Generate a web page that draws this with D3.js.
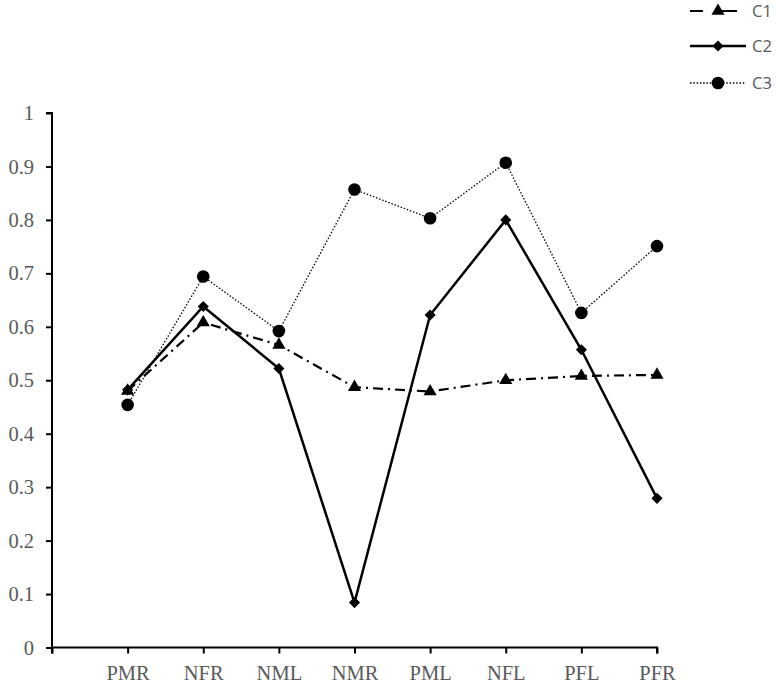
<!DOCTYPE html>
<html>
<head>
<meta charset="utf-8">
<script src="https://cdn.jsdelivr.net/npm/d3@7"></script>
<style>
  body { margin: 0; background: #fff; }
  svg { display: block; }
</style>
</head>
<body>
<svg id="chart" width="776" height="687"></svg>
<script>
const categories = ["PMR", "NFR", "NML", "NMR", "PML", "NFL", "PFL", "PFR"];
const c1Values = [0.48, 0.608, 0.566, 0.487, 0.479, 0.50, 0.508, 0.510];
const c2Values = [0.482, 0.638, 0.522, 0.084, 0.622, 0.80, 0.557, 0.279];
const c3Values = [0.454, 0.694, 0.592, 0.857, 0.803, 0.907, 0.626, 0.751];
const yTicks = [0, 0.1, 0.2, 0.3, 0.4, 0.5, 0.6, 0.7, 0.8, 0.9, 1];

const series = [
  { name: "C1", values: c1Values, marker: "triangle", dash: "10,5,2,5", width: 2.2 },
  { name: "C2", values: c2Values, marker: "diamond", dash: null, width: 2.5 },
  { name: "C3", values: c3Values, marker: "circle", dash: "1.5,1.8", width: 1.3 }
];

const svg = d3.select("#chart");
const plotLeft = 52, plotRight = 657, plotTop = 113, plotBottom = 647.5;

// empty slot in front so PMR sits one step right of the y axis
const x = d3.scalePoint()
  .domain([""].concat(categories))
  .range([plotLeft, plotRight]);

const y = d3.scaleLinear()
  .domain([0, 1])
  .range([plotBottom, plotTop]);

const labelFont = "'Liberation Serif', 'Times New Roman', serif";

// y axis
const yAxis = svg.append("g")
  .attr("transform", `translate(${plotLeft},0)`)
  .call(d3.axisLeft(y).tickValues(yTicks).tickSize(6).tickPadding(12)
    .tickFormat(d => d3.format("~g")(d)));
yAxis.select(".domain").attr("stroke", "#000").attr("stroke-width", 2)
  .attr("d", `M-6,${plotTop}H0V${plotBottom}`);
yAxis.selectAll(".tick line").attr("stroke", "#000").attr("stroke-width", 2);
yAxis.selectAll("text")
  .style("font-family", labelFont)
  .style("font-size", "20.5px")
  .attr("fill", "#595959");

// x axis
const xAxis = svg.append("g")
  .attr("transform", `translate(0,${plotBottom})`)
  .call(d3.axisBottom(x).tickSize(6).tickPadding(12));
xAxis.select(".domain").attr("stroke", "#000").attr("stroke-width", 2)
  .attr("d", `M${plotLeft},6V0H${plotRight}V6`);
xAxis.selectAll(".tick line").attr("stroke", "#000").attr("stroke-width", 2);
xAxis.selectAll("text")
  .style("font-family", labelFont)
  .style("font-size", "20.5px")
  .attr("fill", "#595959");

const symbolType = {
  triangle: d3.symbolTriangle,
  diamond: d3.symbolSquare,
  circle: d3.symbolCircle
};
const symbolSize = { triangle: 75, diamond: 62, circle: 125 };
const symbolRotate = { triangle: 0, diamond: 45, circle: 0 };

const line = d3.line()
  .x((d, i) => x(categories[i]))
  .y(d => y(d));

series.forEach(s => {
  const g = svg.append("g");
  g.append("path")
    .datum(s.values)
    .attr("d", line)
    .attr("fill", "none")
    .attr("stroke", "#000")
    .attr("stroke-width", s.width)
    .attr("stroke-dasharray", s.dash);

  g.selectAll("path.marker")
    .data(s.values)
    .enter()
    .append("path")
    .attr("class", "marker")
    .attr("transform", (d, i) =>
      `translate(${x(categories[i])},${y(d)}) rotate(${symbolRotate[s.marker]})`)
    .attr("d", d3.symbol().type(symbolType[s.marker]).size(symbolSize[s.marker]))
    .attr("fill", "#000");
});

// legend
const legend = svg.append("g");
const legendY = [11, 46, 83];
series.forEach((s, i) => {
  const item = legend.append("g").attr("transform", `translate(0,${legendY[i]})`);
  item.append("line")
    .attr("x1", 690).attr("x2", 746)
    .attr("stroke", "#000")
    .attr("stroke-width", s.width)
    .attr("stroke-dasharray", s.name === "C1" ? "13,14,20" : s.dash);
  item.append("path")
    .attr("transform", `translate(718,0) rotate(${symbolRotate[s.marker]})`)
    .attr("d", d3.symbol().type(symbolType[s.marker]).size(symbolSize[s.marker]))
    .attr("fill", "#000");
  item.append("text")
    .attr("x", 752)
    .attr("y", 0)
    .attr("dy", "0.35em")
    .style("font-family", "'Open Sans', sans-serif")
    .style("font-size", "16.5px")
    .attr("fill", "#595959")
    .text(s.name);
});
</script>
</body>
</html>
